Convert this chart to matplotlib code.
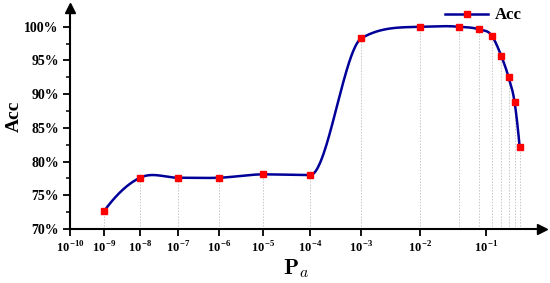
import numpy as np
import matplotlib
matplotlib.use("Agg")
from matplotlib import pyplot as plt

# data
pa = [1e-9, 1e-8, 1e-7, 1e-6, 1e-5, 1e-4, 1e-3, 1e-2,
      0.04, 0.08, 0.12, 0.16, 0.20, 0.24, 0.28]
acc = [72.6, 77.6, 77.6, 77.6, 78.1, 78.0, 98.3, 100.0,
       100.0, 99.6, 98.7, 95.7, 92.5, 88.8, 82.1]
xticks = [1e-10, 1e-9, 1e-8, 1e-7, 1e-6, 1e-5, 1e-4, 1e-3, 1e-2, 1e-1]
xticklabels = [r'$10^{-%d}$' % k for k in range(10, 0, -1)]
yticks = [70, 75, 80, 85, 90, 95, 100]

# the x axis is a stretched log axis: decade positions
dec_log = np.arange(-10, 1)
dec_pos = np.array([71, 105, 141, 179, 220, 264, 311, 362, 420, 486, 562], dtype=float)


def fwd(x):
    return np.interp(np.log10(np.clip(x, 1e-12, None)), dec_log, dec_pos)


def inv(u):
    return 10 ** np.interp(u, dec_pos, dec_log)


def smooth(xk, yk, n=80):
    # hermite curve, bessel slopes with monotone limiting
    h = np.diff(xk)
    s = np.diff(yk) / h
    m = np.zeros(len(xk))
    m[0] = ((2 * h[0] + h[1]) * s[0] - h[0] * s[1]) / (h[0] + h[1])
    m[-1] = ((2 * h[-1] + h[-2]) * s[-1] - h[-1] * s[-2]) / (h[-1] + h[-2])
    for i in range(1, len(xk) - 1):
        if s[i - 1] * s[i] < 0 or (s[i - 1] == 0 and s[i] == 0):
            m[i] = 0
        else:
            m[i] = (h[i] * s[i - 1] + h[i - 1] * s[i]) / (h[i - 1] + h[i])
    for i in range(len(s)):
        if s[i] == 0:
            continue
        a, b = m[i] / s[i], m[i + 1] / s[i]
        if a ** 2 + b ** 2 > 9:
            t = 3 / np.hypot(a, b)
            m[i], m[i + 1] = t * a * s[i], t * b * s[i]
    xs, ys = [], []
    t = np.linspace(0, 1, n)
    for i in range(len(h)):
        y = ((2 * t ** 3 - 3 * t ** 2 + 1) * yk[i] + (t ** 3 - 2 * t ** 2 + t) * h[i] * m[i]
             + (-2 * t ** 3 + 3 * t ** 2) * yk[i + 1] + (t ** 3 - t ** 2) * h[i] * m[i + 1])
        xs.append(xk[i] + t * h[i])
        ys.append(y)
    return np.concatenate(xs), np.concatenate(ys)


plt.rcParams['font.family'] = ['Liberation Serif', 'DejaVu Serif']
plt.rcParams['font.weight'] = 'bold'
plt.rcParams['mathtext.fontset'] = 'custom'
plt.rcParams['mathtext.rm'] = 'Liberation Serif:bold'
plt.rcParams['mathtext.bf'] = 'cmb10'
plt.rcParams['mathtext.it'] = 'cmmi10'

fig = plt.figure(figsize=(5.5, 2.83), dpi=100)
ax = fig.add_axes([0.127, 0.191, 0.858, 0.781])
ax.set_xscale('function', functions=(fwd, inv))
ax.set_xlim(1e-10, inv(542))
ax.set_ylim(70, 102.8)

cu, cy = smooth(fwd(np.array(pa)), np.array(acc))

ax.vlines(pa, 70, acc, colors='#c8c8c8', linestyles=(0, (1.5, 1.5)), linewidth=0.7, zorder=1)
ax.plot(inv(cu), cy, color='#000099', lw=1.8, zorder=2)
ax.plot(pa, acc, 's', color='#ff0000', ms=4, mec='#ff0000', zorder=3)
ax.plot([], [], '-s', color='#000099', lw=1.8, ms=4, mfc='#ff0000', mec='#ff0000', label='Acc')

ax.spines['top'].set_visible(False)
ax.spines['right'].set_visible(False)
ax.spines['left'].set_linewidth(1.5)
ax.spines['bottom'].set_linewidth(1.5)
ax.plot(1, 0, '>', color='k', ms=7, transform=ax.transAxes, clip_on=False)
ax.plot(0, 1, '^', color='k', ms=7, transform=ax.transAxes, clip_on=False)

ax.set_xticks(xticks)
ax.set_xticklabels(xticklabels, fontsize=9)
ax.xaxis.set_minor_locator(matplotlib.ticker.NullLocator())
ax.set_yticks(yticks)
ax.set_yticks(np.arange(72.5, 100, 5), minor=True)
ax.set_yticklabels(['%d%%' % v for v in yticks], fontsize=10, fontweight='bold')
ax.tick_params(axis='both', which='major', direction='out', length=5, width=1.3, pad=3)
ax.tick_params(axis='y', which='minor', direction='out', length=3, width=1.1)

ax.set_ylabel('Acc', fontsize=14, fontweight='bold')
ax.yaxis.set_label_coords(-0.10, 0.51)
ax.set_xlabel(r'$\mathbf{P}_a$', fontsize=16)
ax.xaxis.set_label_coords(0.48, -0.13)

ax.legend(loc='upper right', bbox_to_anchor=(0.99, 1.07), frameon=False,
          prop={'size': 12, 'weight': 'bold'}, handlelength=2.6, handletextpad=0.4)

fig.savefig('out.png', dpi=100)
